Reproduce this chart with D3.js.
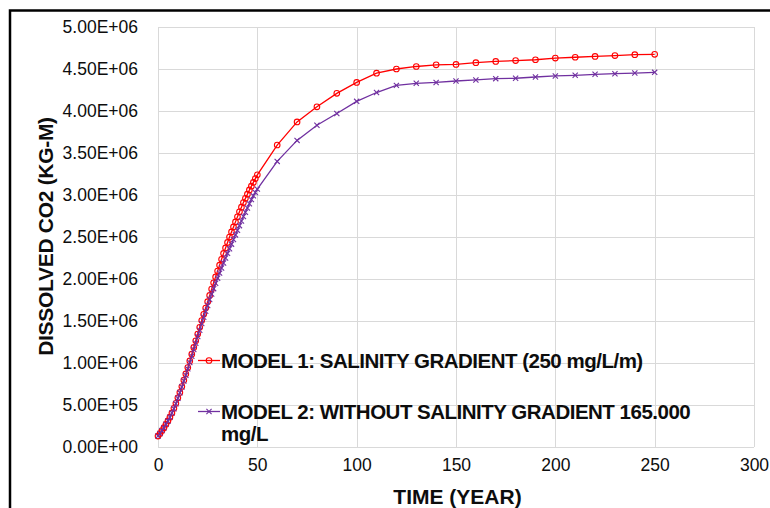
<!DOCTYPE html>
<html>
<head>
<meta charset="utf-8">
<script src="https://cdn.jsdelivr.net/npm/d3@7"></script>
<style>
  html, body { margin: 0; padding: 0; background: #ffffff; }
  svg { display: block; }
</style>
</head>
<body>
<svg id="chart" width="770" height="508"></svg>
<script>
// Time in years
const years = [
  0, 1, 2, 3, 4, 5, 6, 7, 8, 9,
  10, 11, 12, 13, 14, 15, 16, 17, 18, 19,
  20, 21, 22, 23, 24, 25, 26, 27, 28, 29,
  30, 31, 32, 33, 34, 35, 36, 37, 38, 39,
  40, 41, 42, 43, 44, 45, 46, 47, 48, 49,
  50, 60, 70, 80, 90, 100, 110, 120, 130, 140,
  150, 160, 170, 180, 190, 200, 210, 220, 230, 240, 250
];

// Dissolved CO2 (kg-M), model 1: salinity gradient
const model1 = [
  1.30e5, 1.60e5, 1.95e5, 2.30e5, 2.70e5, 3.10e5, 3.55e5, 4.05e5, 4.60e5, 5.20e5,
  5.85e5, 6.50e5, 7.20e5, 7.95e5, 8.70e5, 9.45e5, 1.025e6, 1.105e6, 1.185e6, 1.265e6,
  1.345e6, 1.425e6, 1.505e6, 1.580e6, 1.655e6, 1.730e6, 1.805e6, 1.880e6, 1.955e6, 2.025e6,
  2.095e6, 2.165e6, 2.235e6, 2.305e6, 2.370e6, 2.435e6, 2.500e6, 2.560e6, 2.620e6, 2.680e6,
  2.740e6, 2.800e6, 2.855e6, 2.910e6, 2.960e6, 3.010e6, 3.060e6, 3.105e6, 3.150e6, 3.195e6,
  3.240e6, 3.595e6, 3.870e6, 4.050e6, 4.210e6, 4.340e6, 4.450e6, 4.500e6, 4.530e6, 4.550e6,
  4.555e6, 4.575e6, 4.590e6, 4.600e6, 4.610e6, 4.630e6, 4.640e6, 4.650e6, 4.660e6, 4.670e6, 4.675e6
];

// Dissolved CO2 (kg-M), model 2: without salinity gradient
const model2 = [
  1.30e5, 1.60e5, 1.95e5, 2.30e5, 2.70e5, 3.10e5, 3.55e5, 4.05e5, 4.55e5, 5.15e5,
  5.80e5, 6.45e5, 7.15e5, 7.85e5, 8.55e5, 9.30e5, 1.005e6, 1.080e6, 1.160e6, 1.235e6,
  1.315e6, 1.390e6, 1.470e6, 1.545e6, 1.615e6, 1.685e6, 1.755e6, 1.820e6, 1.885e6, 1.950e6,
  2.010e6, 2.070e6, 2.130e6, 2.190e6, 2.250e6, 2.305e6, 2.360e6, 2.415e6, 2.470e6, 2.525e6,
  2.580e6, 2.635e6, 2.690e6, 2.745e6, 2.795e6, 2.845e6, 2.895e6, 2.945e6, 2.990e6, 3.030e6,
  3.070e6, 3.400e6, 3.650e6, 3.830e6, 3.970e6, 4.115e6, 4.220e6, 4.305e6, 4.330e6, 4.340e6,
  4.357e6, 4.370e6, 4.385e6, 4.390e6, 4.405e6, 4.417e6, 4.425e6, 4.437e6, 4.444e6, 4.452e6, 4.460e6
];

const xTicks = [0, 50, 100, 150, 200, 250, 300];
const yTicks = [0, 5e5, 1e6, 1.5e6, 2e6, 2.5e6, 3e6, 3.5e6, 4e6, 4.5e6, 5e6];

const seriesNames = [
  "MODEL 1: SALINITY GRADIENT (250 mg/L/m)",
  ["MODEL 2: WITHOUT SALINITY GRADIENT 165.000", "mg/L"]
];

const RED = "#FF0000";
const PURPLE = "#7030A0";
const TEXT = "#0d0d0d";
const GRID = "#d9d9d9";

const svg = d3.select("#chart");

// Outer chart frame (extends past the right and bottom edges)
svg.append("rect")
  .attr("x", 10).attr("y", 10.5)
  .attr("width", 900).attr("height", 700)
  .attr("fill", "#ffffff")
  .attr("stroke", "#000000")
  .attr("stroke-width", 2.5);

const x = d3.scaleLinear().domain([0, 300]).range([158, 754]);
const y = d3.scaleLinear().domain([0, 5e6]).range([447, 27]);

// Gridlines
const grid = svg.append("g").attr("stroke", GRID).attr("stroke-width", 1).attr("shape-rendering", "crispEdges");
grid.selectAll("line.h").data(yTicks).join("line")
  .attr("class", "h")
  .attr("x1", x(0)).attr("x2", x(300))
  .attr("y1", d => Math.round(y(d)) + 0.5).attr("y2", d => Math.round(y(d)) + 0.5);
grid.selectAll("line.v").data(xTicks).join("line")
  .attr("class", "v")
  .attr("y1", y(0)).attr("y2", y(5e6))
  .attr("x1", d => Math.round(x(d)) + 0.5).attr("x2", d => Math.round(x(d)) + 0.5);

// Scientific tick format like 5.00E+06
const sci = v => {
  const [m, e] = v.toExponential(2).split("e");
  const sign = e[0] === "-" ? "-" : "+";
  const digits = e.replace(/[+-]/, "").padStart(2, "0");
  return m + "E" + sign + digits;
};

const tickFont = "'Liberation Sans', Arial, sans-serif";

const yAxis = svg.append("g")
  .attr("transform", `translate(${x(0)},0)`)
  .call(d3.axisLeft(y).tickValues(yTicks).tickSize(0).tickPadding(20).tickFormat(sci));
yAxis.select(".domain").remove();
yAxis.selectAll("text")
  .attr("font-family", tickFont).attr("font-size", 17.5).attr("fill", TEXT);

const xAxis = svg.append("g")
  .attr("transform", `translate(0,${y(0)})`)
  .call(d3.axisBottom(x).tickValues(xTicks).tickSize(0).tickPadding(12).tickFormat(d3.format("d")));
xAxis.select(".domain").remove();
xAxis.selectAll("text")
  .attr("font-family", tickFont).attr("font-size", 17.5).attr("fill", TEXT);

// Axis titles
const titleFont = "'Liberation Sans', Arial, sans-serif";
svg.append("text")
  .attr("x", 457.5).attr("y", 503.5)
  .attr("text-anchor", "middle")
  .attr("font-family", titleFont).attr("font-weight", "bold").attr("font-size", 21)
  .attr("fill", TEXT)
  .text("TIME (YEAR)");

svg.append("text")
  .attr("transform", "translate(52.5,236.5) rotate(-90)")
  .attr("text-anchor", "middle")
  .attr("font-family", titleFont).attr("font-weight", "bold").attr("font-size", 21)
  .attr("letter-spacing", -0.3)
  .attr("fill", TEXT)
  .text("DISSOLVED CO2 (KG-M)");

// Series
const d1 = years.map((t, i) => [t, model1[i]]);
const d2 = years.map((t, i) => [t, model2[i]]);
const line = d3.line().x(d => x(d[0])).y(d => y(d[1]));

const crossPath = (cx, cy, s) =>
  `M${cx - s},${cy - s}L${cx + s},${cy + s}M${cx - s},${cy + s}L${cx + s},${cy - s}`;

function drawCircles(g, data) {
  g.selectAll("circle").data(data).join("circle")
    .attr("cx", d => x(d[0])).attr("cy", d => y(d[1]))
    .attr("r", 2.8)
    .attr("fill", "none").attr("stroke", RED).attr("stroke-width", 1.1);
}
function drawCrosses(g, data) {
  g.selectAll("path").data(data).join("path")
    .attr("d", d => crossPath(x(d[0]), y(d[1]), 2.6))
    .attr("fill", "none").attr("stroke", PURPLE).attr("stroke-width", 1.1);
}

const s1 = svg.append("g");
s1.append("path").datum(d1).attr("d", line)
  .attr("fill", "none").attr("stroke", RED).attr("stroke-width", 1.3);
drawCircles(s1.append("g"), d1);

const s2 = svg.append("g");
s2.append("path").datum(d2).attr("d", line)
  .attr("fill", "none").attr("stroke", PURPLE).attr("stroke-width", 1.3);
drawCrosses(s2.append("g"), d2);

// Legend
const legendFontSize = 20.5;
const legendSpacing = -0.5;
const legend = svg.append("g");
const lg1 = legend.append("g");
lg1.append("line").attr("x1", 198).attr("x2", 220).attr("y1", 360.5).attr("y2", 360.5)
  .attr("stroke", RED).attr("stroke-width", 1.3);
lg1.append("circle").attr("cx", 209).attr("cy", 360.5).attr("r", 2.8)
  .attr("fill", "none").attr("stroke", RED).attr("stroke-width", 1.1);
lg1.append("text").attr("x", 221).attr("y", 368.3)
  .attr("font-family", titleFont).attr("font-weight", "bold").attr("font-size", legendFontSize)
  .attr("letter-spacing", legendSpacing)
  .attr("fill", TEXT).text(seriesNames[0]);

const lg2 = legend.append("g");
lg2.append("line").attr("x1", 198).attr("x2", 220).attr("y1", 411.5).attr("y2", 411.5)
  .attr("stroke", PURPLE).attr("stroke-width", 1.3);
lg2.append("path").attr("d", crossPath(209, 411.5, 2.6))
  .attr("fill", "none").attr("stroke", PURPLE).attr("stroke-width", 1.1);
lg2.append("text")
  .attr("font-family", titleFont).attr("font-weight", "bold").attr("font-size", legendFontSize)
  .attr("letter-spacing", legendSpacing)
  .attr("fill", TEXT)
  .selectAll("tspan").data(seriesNames[1]).join("tspan")
  .attr("x", 221).attr("y", (d, i) => 419 + i * 21.5)
  .text(d => d);
</script>
</body>
</html>
